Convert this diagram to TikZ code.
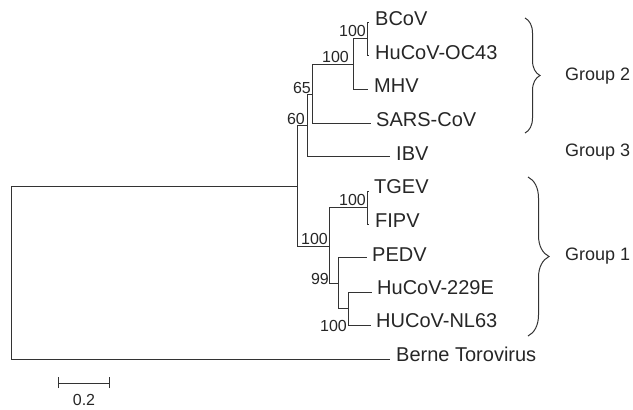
\documentclass[tikz,border=0pt]{standalone}
\usepackage{fontspec}
\setmainfont{Liberation Sans}
\usetikzlibrary{decorations.pathreplacing}
\begin{document}
\begin{tikzpicture}[x=1pt,y=-1pt,
  br/.style={line width=1pt, draw=black!80},
  leaf/.style={anchor=base west, inner sep=0pt, font=\fontsize{20}{24}\selectfont, text=black!85},
  boot/.style={anchor=base east, inner sep=0pt, font=\fontsize{16}{19}\selectfont, text=black!85},
  grp/.style={anchor=west, inner sep=0pt, font=\fontsize{18}{22}\selectfont, text=black!85},
  brc/.style={line width=1pt, draw=black!80, decorate, decoration={brace, amplitude=#1}}
]
\path[use as bounding box] (0,0) rectangle (633,410);

% internal nodes
\coordinate (r)  at (11,272);
\coordinate (n1) at (297,186);
\coordinate (n2) at (307,125);
\coordinate (n3) at (312,94);
\coordinate (n4) at (353,64);
\coordinate (n5) at (367,38);
\coordinate (n6) at (329,246);
\coordinate (n7) at (367,207);
\coordinate (n8) at (338,283);
\coordinate (n9) at (348,308);

% leaf tips
\coordinate (tBCoV) at (369,22);
\coordinate (tOC43) at (369,55);
\coordinate (tMHV)  at (368,89);
\coordinate (tSARS) at (371,123);
\coordinate (tIBV)  at (390,156);
\coordinate (tTGEV) at (369,191);
\coordinate (tFIPV) at (369,224);
\coordinate (tPEDV) at (367,257);
\coordinate (t229E) at (372,292);
\coordinate (tNL63) at (371,325);
\coordinate (tBerne) at (390,359);

% branches
\draw[br] (r) |- (n1);
\draw[br] (r) |- (tBerne);
\draw[br] (n1) |- (n2);
\draw[br] (n1) |- (n6);
\draw[br] (n2) |- (n3);
\draw[br] (n2) |- (tIBV);
\draw[br] (n3) |- (n4);
\draw[br] (n3) |- (tSARS);
\draw[br] (n4) |- (n5);
\draw[br] (n4) |- (tMHV);
\draw[br] (n5) |- (tBCoV);
\draw[br] (n5) |- (tOC43);
\draw[br] (n6) |- (n7);
\draw[br] (n6) |- (n8);
\draw[br] (n7) |- (tTGEV);
\draw[br] (n7) |- (tFIPV);
\draw[br] (n8) |- (tPEDV);
\draw[br] (n8) |- (n9);
\draw[br] (n9) |- (t229E);
\draw[br] (n9) |- (tNL63);

% leaf labels
\node[leaf] (lBCoV) at (375,25) {BCoV};
\node[leaf] (lOC43) at (375,59) {HuCoV-OC43};
\node[leaf] (lMHV)  at (374,92) {MHV};
\node[leaf] (lSARS) at (376,126) {SARS-CoV};
\node[leaf] (lIBV)  at (396,160) {IBV};
\node[leaf] (lTGEV) at (374,193) {TGEV};
\node[leaf] (lFIPV) at (375,227) {FIPV};
\node[leaf] (lPEDV) at (372,261) {PEDV};
\node[leaf] (l229E) at (377,294) {HuCoV-229E};
\node[leaf] (lNL63) at (376,327) {HUCoV-NL63};
\node[leaf] (lBerne) at (396,361) {Berne Torovirus};

% bootstrap values
\node[boot] (b5) at (366,36) {100};
\node[boot] (b4) at (349,62) {100};
\node[boot] (b3) at (311,93) {65};
\node[boot] (b2) at (305,124) {60};
\node[boot] (b7) at (366,205) {100};
\node[boot] (b6) at (328,244) {100};
\node[boot] (b8) at (329,284) {99};
\node[boot] (b9) at (347,331) {100};

% group braces
\coordinate (g2a) at (525,18);
\coordinate (g2b) at (525,133);
\coordinate (g1a) at (528,177);
\coordinate (g1b) at (528,336);
\draw[brc=15pt] (g2a) -- (g2b);
\draw[brc=21pt] (g1a) -- (g1b);
\node[grp] (G2) at (565,76) {Group 2};
\node[grp] (G3) at (565,152) {Group 3};
\node[grp] (G1) at (565,256) {Group 1};

% scale bar
\coordinate (s1) at (58,383);
\coordinate (s2) at (109,383);
\draw[br] (s1) -- (s2);
\draw[br] ([yshift=-5pt]s1) -- ([yshift=6pt]s1);
\draw[br] ([yshift=-5pt]s2) -- ([yshift=6pt]s2);
\node[inner sep=0pt, font=\fontsize{16}{19}\selectfont, text=black!85] (sl) at (84,400) {0.2};
\end{tikzpicture}
\end{document}
